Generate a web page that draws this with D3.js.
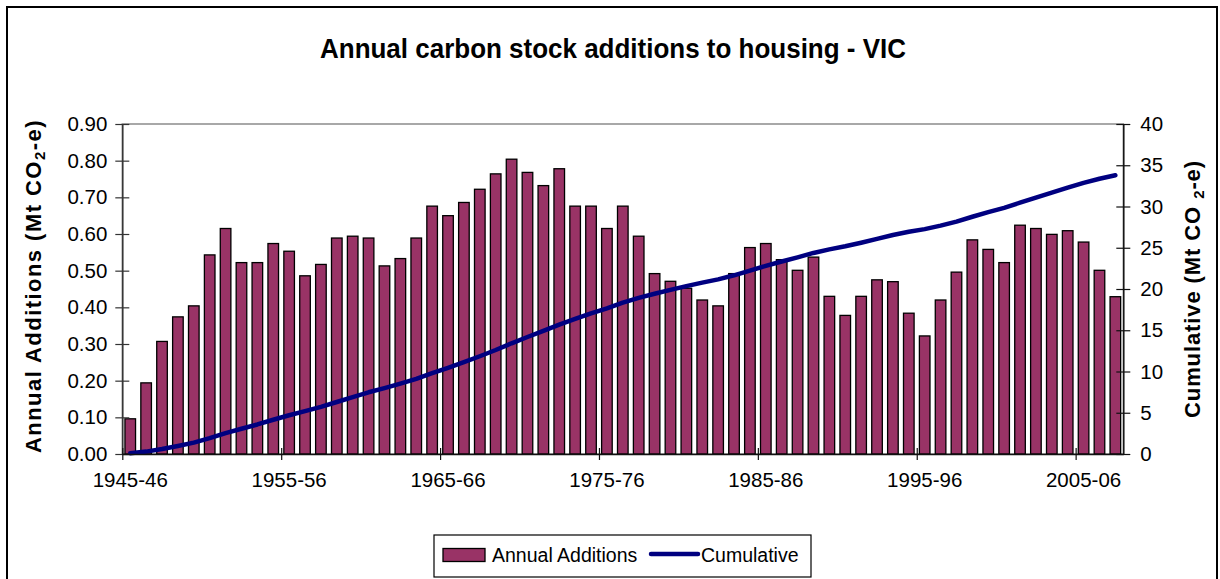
<!DOCTYPE html>
<html>
<head>
<meta charset="utf-8">
<script src="https://cdn.jsdelivr.net/npm/d3@7"></script>
<style>
  html, body { margin: 0; padding: 0; background: #fff; }
  svg { display: block; font-family: "Liberation Sans", Arial, sans-serif; }
</style>
</head>
<body>
<svg id="chart" width="1220" height="579"></svg>
<script>
// Financial years, 1945-46 to 2007-08
const years = d3.range(1945, 2008).map(y => `${y}-${String((y + 1) % 100).padStart(2, "0")}`);

// Annual carbon stock additions to housing, Mt CO2-e
const annualAdditions = [
  0.096, 0.194, 0.307, 0.374, 0.404, 0.543, 0.615, 0.522, 0.522, 0.574,
  0.553, 0.486, 0.517, 0.589, 0.594, 0.589, 0.513, 0.533, 0.589, 0.676,
  0.650, 0.686, 0.722, 0.764, 0.804, 0.768, 0.732, 0.778, 0.676, 0.676,
  0.615, 0.676, 0.594, 0.492, 0.471, 0.452, 0.420, 0.404, 0.492, 0.563,
  0.574, 0.530, 0.501, 0.537, 0.430, 0.378, 0.430, 0.475, 0.470, 0.384,
  0.322, 0.420, 0.496, 0.584, 0.558, 0.522, 0.624, 0.615, 0.599, 0.609,
  0.578, 0.501, 0.429
];

// Cumulative carbon stock, Mt CO2-e
const cumulative = [
  0.10, 0.29, 0.60, 0.97, 1.38, 1.92, 2.53, 3.06, 3.58, 4.15,
  4.70, 5.19, 5.71, 6.30, 6.89, 7.48, 7.99, 8.53, 9.11, 9.79,
  10.44, 11.13, 11.85, 12.61, 13.42, 14.18, 14.92, 15.69, 16.37, 17.05,
  17.66, 18.34, 18.93, 19.42, 19.89, 20.35, 20.77, 21.17, 21.66, 22.23,
  22.80, 23.33, 23.83, 24.37, 24.80, 25.18, 25.61, 26.08, 26.55, 26.93,
  27.26, 27.68, 28.17, 28.76, 29.31, 29.84, 30.46, 31.08, 31.67, 32.28,
  32.86, 33.36, 33.79
];

// Axis ticks
const leftTicks = [0, 0.1, 0.2, 0.3, 0.4, 0.5, 0.6, 0.7, 0.8, 0.9];
const rightTicks = [0, 5, 10, 15, 20, 25, 30, 35, 40];
const labelledYears = ["1945-46", "1955-56", "1965-66", "1975-76", "1985-86", "1995-96", "2005-06"];

const svg = d3.select("#chart");
const plot = { left: 122.3, right: 1123.3, top: 124, bottom: 454 };

// Outer chart frame
svg.append("rect")
  .attr("x", 7).attr("y", 7).attr("width", 1210).attr("height", 620)
  .attr("fill", "#fff").attr("stroke", "#000").attr("stroke-width", 2);

// Scales
const x = d3.scaleBand().domain(years).range([plot.left, plot.right])
  .paddingInner(1 / 3).paddingOuter(1 / 6);
const xEdge = d3.scaleLinear().domain([0, years.length]).range([plot.left, plot.right]);
const yL = d3.scaleLinear().domain([0, 0.9]).range([plot.bottom, plot.top]);
const yR = d3.scaleLinear().domain([0, 40]).range([plot.bottom, plot.top]);

// Plot area border
svg.append("rect")
  .attr("x", plot.left).attr("y", plot.top)
  .attr("width", plot.right - plot.left).attr("height", plot.bottom - plot.top)
  .attr("fill", "none").attr("stroke", "#8c8c8c").attr("stroke-width", 1.5);

// Bars
svg.append("g").selectAll("rect")
  .data(years)
  .join("rect")
  .attr("x", d => x(d))
  .attr("width", x.bandwidth())
  .attr("y", (d, i) => yL(annualAdditions[i]))
  .attr("height", (d, i) => yL(0) - yL(annualAdditions[i]))
  .attr("fill", "#993366")
  .attr("stroke", "#000")
  .attr("stroke-width", 1.3);

// Cumulative line
const line = d3.line()
  .x((d, i) => x(years[i]) + x.bandwidth() / 2)
  .y(d => yR(d));
svg.append("path")
  .datum(cumulative)
  .attr("d", line)
  .attr("fill", "none")
  .attr("stroke", "#000080")
  .attr("stroke-width", 4.5)
  .attr("stroke-linejoin", "round")
  .attr("stroke-linecap", "round");

const tickFont = "20.5px";

// Left axis
const gL = svg.append("g").attr("transform", `translate(${plot.left},0)`)
  .call(d3.axisLeft(yL).tickValues(leftTicks).tickFormat(d3.format(".2f")).tickSizeOuter(0).tickPadding(15));
gL.select(".domain").attr("stroke", "#333").attr("stroke-width", 1.5);
gL.selectAll(".tick line").attr("x1", -7).attr("x2", 7).attr("stroke", "#333").attr("stroke-width", 1.2);
gL.selectAll(".tick text").attr("x", -15).style("font-size", tickFont).attr("fill", "#000");

// Right axis
const gR = svg.append("g").attr("transform", `translate(${plot.right},0)`)
  .call(d3.axisRight(yR).tickValues(rightTicks).tickSizeOuter(0));
gR.select(".domain").attr("stroke", "#111").attr("stroke-width", 1.5);
gR.selectAll(".tick line").attr("x1", -7).attr("x2", 7).attr("stroke", "#111").attr("stroke-width", 1.2);
gR.selectAll(".tick text").attr("x", 17).style("font-size", tickFont).attr("fill", "#000");

// Bottom axis: tick marks at category boundaries every ten years
const gB = svg.append("g").attr("transform", `translate(0,${plot.bottom})`)
  .call(d3.axisBottom(xEdge).tickValues(d3.range(0, years.length, 10)).tickFormat("").tickSizeOuter(0));
gB.select(".domain").attr("stroke", "#111").attr("stroke-width", 1.5);
gB.selectAll(".tick line").attr("y1", -6).attr("y2", 6).attr("stroke", "#111").attr("stroke-width", 1.2);

// Bottom axis labels centred on their categories
const gBL = svg.append("g").attr("transform", `translate(0,${plot.bottom})`)
  .call(d3.axisBottom(x).tickValues(labelledYears).tickSize(0));
gBL.select(".domain").remove();
gBL.selectAll(".tick text").attr("y", 33).attr("dy", 0).style("font-size", tickFont).attr("fill", "#000");

// Title
svg.append("text")
  .attr("x", 613).attr("y", 58)
  .attr("text-anchor", "middle")
  .attr("textLength", 586).attr("lengthAdjust", "spacingAndGlyphs")
  .style("font-size", "28px").style("font-weight", "bold")
  .text("Annual carbon stock additions to housing - VIC");

// Axis titles
function axisTitle(cx, cy, parts, target) {
  const t = svg.append("text")
    .attr("transform", `translate(${cx},${cy}) rotate(-90)`)
    .attr("text-anchor", "middle")
    .style("font-size", "22px").style("font-weight", "bold");
  parts.forEach(p => {
    const s = t.append("tspan").text(p.text);
    if (p.sub) s.style("font-size", "15px").attr("dy", 4);
    else if (p.after) s.attr("dy", -4);
  });
  const natural = t.node().getComputedTextLength();
  const chars = parts.reduce((n, p) => n + p.text.length, 0);
  t.style("letter-spacing", `${(target - natural) / chars}px`);
  return t;
}
axisTitle(41, 286, [
  { text: "Annual Additions (Mt CO" }, { text: "2", sub: true }, { text: "-e)", after: true }
], 334);
axisTitle(1200, 289, [
  { text: "Cumulative (Mt CO " }, { text: "2", sub: true }, { text: "-e)", after: true }
], 258);

// Legend
const lg = svg.append("g");
lg.append("rect").attr("x", 434).attr("y", 535).attr("width", 377).attr("height", 42)
  .attr("fill", "#fff").attr("stroke", "#000").attr("stroke-width", 1.2);
lg.append("rect").attr("x", 443).attr("y", 548.5).attr("width", 42).attr("height", 13)
  .attr("fill", "#993366").attr("stroke", "#000").attr("stroke-width", 1.3);
lg.append("text").attr("x", 492).attr("y", 562).style("font-size", "19.5px").text("Annual Additions");
lg.append("line").attr("x1", 651).attr("x2", 698).attr("y1", 554).attr("y2", 554)
  .attr("stroke", "#000080").attr("stroke-width", 4.5).attr("stroke-linecap", "round");
lg.append("text").attr("x", 701).attr("y", 562).style("font-size", "19.5px").text("Cumulative");
</script>
</body>
</html>
